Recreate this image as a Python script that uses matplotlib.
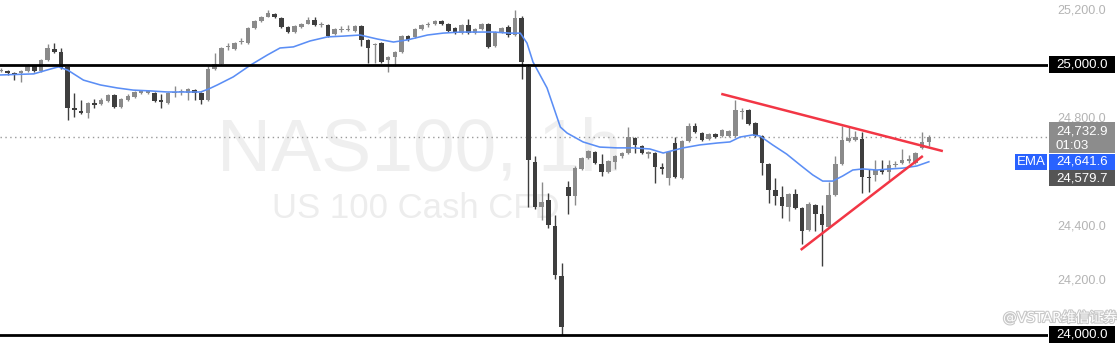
import matplotlib
matplotlib.use("Agg")
import matplotlib.pyplot as plt
import matplotlib.patheffects as pe
from matplotlib.patches import Rectangle

# precios NAS100 1h
opens = [24979, 24978, 24970, 24970, 24978, 24996, 24978, 25018, 25059, 25048,
         24993, 24839, 24830, 24822, 24859, 24855, 24867, 24889, 24844, 24870,
         24881, 24898, 24896, 24896, 24870, 24859, 24896, 24900, 24896, 24907,
         24896, 24870, 24985, 25004, 25067, 25059, 25085, 25081, 25137, 25163,
         25178, 25189, 25174, 25141, 25122, 25141, 25152, 25167, 25148, 25148,
         25115, 25130, 25128, 25126, 25144, 25093, 25074, 25081, 25018, 25030,
         25048, 25107, 25104, 25133, 25148, 25152, 25163, 25152, 25137, 25118,
         25148, 25118, 25133, 25152, 25070, 25122, 25141, 25111, 25174, 24993,
         24641, 24474, 24500, 24404, 24218, 24548, 24515, 24615, 24656, 24678,
         24633, 24604, 24641, 24663, 24674, 24729, 24700, 24670, 24674, 24622,
         24581, 24711, 24581, 24718, 24774, 24748, 24726, 24744, 24737, 24737,
         24737, 24826, 24833, 24785, 24737, 24633, 24537, 24511, 24474, 24522,
         24470, 24389, 24481, 24448, 24400, 24518, 24633, 24718, 24722, 24726,
         24585, 24593, 24611, 24604, 24628, 24637, 24646, 24637, 24693, 24715]
highs = [24989, 24981, 24974, 24981, 25004, 25000, 25022, 25078, 25081, 25063,
         24996, 24896, 24870, 24863, 24874, 24878, 24893, 24893, 24878, 24893,
         24904, 24907, 24907, 24900, 24893, 24900, 24922, 24911, 24915, 24911,
         24900, 24996, 25044, 25067, 25081, 25085, 25100, 25141, 25167, 25181,
         25204, 25192, 25178, 25144, 25148, 25156, 25178, 25178, 25159, 25152,
         25137, 25144, 25148, 25148, 25148, 25096, 25081, 25085, 25033, 25052,
         25111, 25111, 25137, 25152, 25159, 25167, 25167, 25156, 25141, 25152,
         25170, 25137, 25156, 25156, 25126, 25141, 25148, 25204, 25181, 25004,
         24663, 24567, 24526, 24444, 24267, 24570, 24626, 24659, 24685, 24681,
         24670, 24648, 24667, 24678, 24770, 24733, 24704, 24681, 24678, 24637,
         24681, 24733, 24722, 24785, 24785, 24752, 24748, 24748, 24763, 24759,
         24870, 24841, 24837, 24789, 24741, 24637, 24581, 24552, 24526, 24541,
         24474, 24493, 24485, 24481, 24567, 24663, 24774, 24770, 24755, 24752,
         24615, 24648, 24648, 24648, 24644, 24689, 24667, 24678, 24752, 24741]
lows = [24974, 24963, 24944, 24937, 24974, 24974, 24974, 25015, 25044, 24985,
        24796, 24807, 24818, 24804, 24841, 24852, 24863, 24841, 24841, 24867,
        24878, 24893, 24893, 24863, 24841, 24855, 24881, 24889, 24870, 24870,
        24855, 24867, 24981, 25000, 25056, 25056, 25078, 25078, 25133, 25159,
        25176, 25174, 25137, 25118, 25118, 25137, 25150, 25144, 25141, 25104,
        25111, 25122, 25126, 25122, 25070, 25007, 25007, 25007, 24974, 24996,
        25044, 25089, 25100, 25130, 25141, 25148, 25148, 25122, 25115, 25115,
        25115, 25115, 25130, 25063, 25067, 25118, 25104, 25107, 24948, 24474,
        24467, 24426, 24396, 24207, 24000, 24448, 24481, 24611, 24652, 24633,
        24589, 24600, 24615, 24656, 24670, 24674, 24670, 24656, 24563, 24596,
        24556, 24581, 24578, 24715, 24748, 24718, 24722, 24729, 24733, 24733,
        24733, 24800, 24778, 24733, 24593, 24489, 24481, 24433, 24422, 24467,
        24337, 24385, 24385, 24255, 24396, 24515, 24630, 24715, 24718, 24526,
        24530, 24570, 24596, 24574, 24622, 24633, 24637, 24633, 24689, 24700]
closes = [24983, 24970, 24967, 24978, 24996, 24978, 25018, 25063, 25048, 24989,
          24841, 24833, 24822, 24859, 24852, 24870, 24889, 24844, 24874, 24885,
          24900, 24902, 24904, 24867, 24863, 24896, 24900, 24904, 24911, 24896,
          24870, 24985, 25004, 25063, 25070, 25081, 25089, 25137, 25163, 25178,
          25192, 25178, 25141, 25122, 25144, 25152, 25167, 25148, 25152, 25107,
          25133, 25133, 25131, 25144, 25093, 25063, 25078, 25011, 25030, 25048,
          25107, 25093, 25133, 25148, 25152, 25163, 25152, 25126, 25118, 25148,
          25118, 25133, 25152, 25067, 25122, 25137, 25111, 25174, 25011, 24648,
          24474, 24493, 24407, 24222, 24030, 24515, 24618, 24656, 24681, 24637,
          24604, 24644, 24663, 24674, 24733, 24704, 24674, 24678, 24622, 24615,
          24678, 24585, 24718, 24774, 24752, 24722, 24744, 24733, 24759, 24755,
          24833, 24830, 24781, 24737, 24637, 24537, 24515, 24478, 24522, 24470,
          24385, 24485, 24448, 24407, 24518, 24633, 24722, 24729, 24733, 24585,
          24580, 24611, 24604, 24630, 24632, 24648, 24650, 24674, 24715, 24733]

# EMA (puntos leidos: indice de vela, precio)
ema_x = [-0.15, 4.9, 7.4, 8.6, 10.0, 12.35, 14.9, 17.4, 19.8, 22.4, 24.9, 27.3, 29.9,
         31.1, 32.4, 34.8, 37.4, 39.9, 41.8, 43.8, 46.3, 48.9, 51.3, 53.8, 56.4,
         58.8, 60.9, 63.9, 66.2, 68.8, 71.3, 73.7, 76.3, 77.8, 78.8, 79.7, 81.8,
         83.8, 84.8, 87.2, 89.7, 92.3, 94.7, 97.2, 99.2, 102.2, 104.7, 107.3,
         109.2, 110.7, 112.6, 113.7, 115.6, 117.7, 119.7, 121.6, 123.1, 124.6,
         126.1, 127.6, 129.1, 131.2, 133.2, 135.1, 137.2, 139.0]
ema_y = [24963, 24967, 24985, 24993, 24981, 24944, 24926, 24915, 24907, 24904, 24900,
         24900, 24900, 24911, 24926, 24956, 25000, 25037, 25063, 25067, 25089,
         25104, 25107, 25111, 25096, 25085, 25093, 25111, 25118, 25122, 25122,
         25122, 25118, 25118, 25081, 25011, 24915, 24770, 24748, 24715, 24696,
         24693, 24693, 24689, 24674, 24693, 24704, 24711, 24715, 24733, 24741,
         24737, 24704, 24670, 24630, 24593, 24570, 24570, 24589, 24611, 24615,
         24611, 24615, 24618, 24626, 24641.6]

# lineas de tendencia (triangulo)
linea_sup = ([107.9, 141.1], [24893, 24681])
linea_inf = ([119.8, 138.1], [24315, 24663])

niveles = [25000, 24000]
ticks_precio = [25200, 24800, 24400, 24200]
precio_actual = 24732.9
valor_ema = 24641.6
precio_bajo = 24579.7

ymin, ymax = 23944.4, 25240.7

fig = plt.figure(figsize=(11.17, 3.5), dpi=100)
ax = fig.add_axes([0, 0, 1048 / 1117, 1])
ax.set_xlim(-0.15, 156.85)
ax.set_ylim(ymin, ymax)
ax.axis("off")

# marca de agua
ax.text(0.4, 0.514, "NAS100, 1h", transform=ax.transAxes, ha="center", va="baseline",
        fontsize=54, color="#efefef", family="Liberation Sans", zorder=0)
ax.text(0.397, 0.377, "US 100 Cash CFD", transform=ax.transAxes, ha="center", va="baseline",
        fontsize=25, color="#ededed", family="Liberation Sans", zorder=0)

# velas
gris, oscuro = "#8a8a8a", "#3e3e3e"
idx = list(range(len(opens)))
cols = [gris if c >= o else oscuro for o, c in zip(opens, closes)]
ax.vlines(idx, lows, highs, colors=cols, linewidth=1, zorder=2)
fondo = [min(o, c) for o, c in zip(opens, closes)]
alto = [max(abs(c - o), 3.7) for o, c in zip(opens, closes)]
ax.bar(idx, alto, bottom=fondo, width=0.68, color=cols, linewidth=0, zorder=3)

ax.plot(ema_x, ema_y, color="#5b8ef5", linewidth=1.15, zorder=4)

for nv in niveles:
    ax.axhline(nv, color="black", linewidth=2, zorder=5)
ax.axhline(precio_actual, color="#9a9a9a", linewidth=1, linestyle=(0, (1, 2.5)), zorder=1)

ax.plot(*linea_sup, color="#f23645", linewidth=1.8, zorder=6, solid_capstyle="butt")
ax.plot(*linea_inf, color="#f23645", linewidth=1.8, zorder=6, solid_capstyle="butt")

# escala de precios
ax2 = fig.add_axes([0, 0, 1, 1])
ax2.set_xlim(0, 1117)
ax2.set_ylim(ymin, ymax)
ax2.axis("off")
ax2.patch.set_alpha(0)

for t in ticks_precio:
    ax2.text(1057, t, f"{t:,.1f}", va="center", ha="left", fontsize=9,
             color="#b4b4b4", family="Liberation Sans")

px = 3.704  # precio por pixel
def caja(y, h, color, texto, x0=1049, w=66, fs=9.5):
    ax2.add_patch(Rectangle((x0, y - h / 2 * px), w, h * px, facecolor=color,
                            edgecolor="none", zorder=5))
    ax2.text(x0 + 7, y, texto, va="center", ha="left", fontsize=fs,
             color="white", family="Liberation Sans", zorder=6)

for nv in niveles:
    caja(nv, 17, "black", f"{nv:,.1f}")

ax2.add_patch(Rectangle((1049, precio_actual - 16 * px), 66, 31 * px,
                        facecolor="#8c8c8c", edgecolor="none", zorder=5))
ax2.text(1056, precio_actual + 6 * px, f"{precio_actual:,.1f}", va="center", ha="left",
         fontsize=9.5, color="white", family="Liberation Sans", zorder=6)
ax2.text(1056, precio_actual - 9 * px, "01:03", va="center", ha="left",
         fontsize=9.5, color="white", family="Liberation Sans", zorder=6)
caja(valor_ema, 16, "#2962ff", f"{valor_ema:,.1f}")
caja(precio_bajo, 16, "#555555", f"{precio_bajo:,.1f}")
ax2.add_patch(Rectangle((1015, valor_ema - 8 * px), 32, 16 * px,
                        facecolor="#2962ff", edgecolor="none", zorder=5))
ax2.text(1031, valor_ema, "EMA", va="center", ha="center", fontsize=9.5,
         color="white", family="Liberation Sans", zorder=6)

ax2.text(1003, 24063, "@VSTAR维信证券", va="center", ha="left", fontsize=10,
         color="white", family=["DejaVu Sans", "Noto Sans CJK SC"], zorder=7,
         path_effects=[pe.withStroke(linewidth=1.6, foreground="#c8c8c8")])

fig.savefig("out.png", dpi=100)
